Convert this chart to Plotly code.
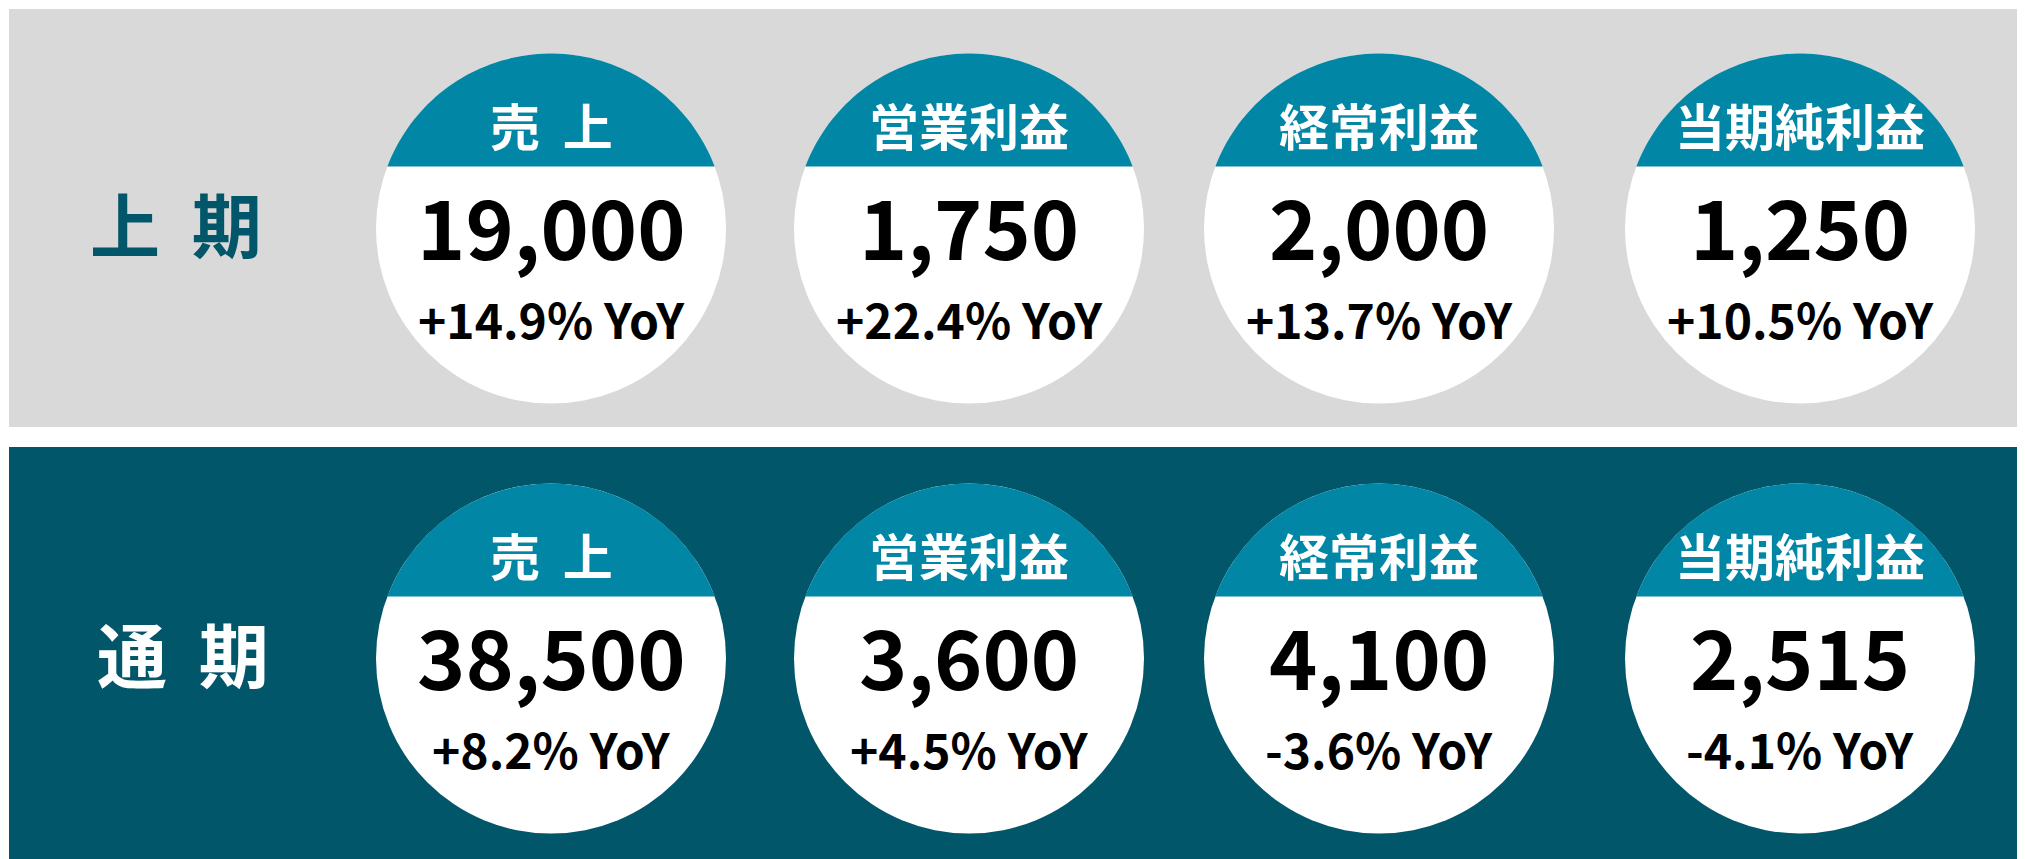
import numpy as np
import plotly.graph_objects as go

# ---- data ----
periods = ["上 期", "通 期"]
metrics = ["売 上", "営業利益", "経常利益", "当期純利益"]
h1_values = [19000, 1750, 2000, 1250]
h1_yoy = [14.9, 22.4, 13.7, 10.5]
fy_values = [38500, 3600, 4100, 2515]
fy_yoy = [8.2, 4.5, -3.6, -4.1]

# ---- styles / layout constants ----
W, H = 2025, 859
OFF = 8  # page body margin compensation
GRAY = "#d9d9d9"
DARK = "#025669"
TEAL = "#0286a5"
FONT = "Noto Sans CJK JP"
panel_y = [(9, 427), (447, 870)]
panel_x0 = 9
row_cy = [228.5, 658.5]
col_cx = [551, 969, 1379, 1800]
R = 175
cap_depth = 113  # from circle top to cap bottom
label_x = [176, 183]
label_colors = [DARK, "#ffffff"]


def spaced(s, n):
    return s.replace(" ", "&nbsp;" * n)


fig = go.Figure()
shapes = []
annotations = []

for r, (y0, y1) in enumerate(panel_y):
    shapes.append(dict(type="rect", xref="x", yref="y", x0=panel_x0, x1=W + 20, y0=y0, y1=y1,
                       fillcolor=GRAY if r == 0 else DARK, line=dict(width=0), layer="below"))

rows = [(h1_values, h1_yoy), (fy_values, fy_yoy)]
for r, (vals, yoys) in enumerate(rows):
    cy = row_cy[r]
    annotations.append(dict(x=label_x[r], y=cy - 6, text=spaced(periods[r], 2), showarrow=False,
                            font=dict(family=FONT, size=70, color=label_colors[r], weight="bold"),
                            xanchor="center", yanchor="middle"))
    for c, m in enumerate(metrics):
        cx = col_cx[c]
        shapes.append(dict(type="circle", xref="x", yref="y", x0=cx - R, x1=cx + R,
                           y0=cy - R, y1=cy + R, fillcolor="#ffffff", line=dict(width=0)))
        ychord = cy - R + cap_depth
        half = np.arccos((cy - ychord) / R)
        th = np.linspace(-half, half, 80)
        px = cx + R * np.sin(th)
        py = cy - R * np.cos(th)
        path = "M " + " L ".join(f"{a:.2f},{b:.2f}" for a, b in zip(px, py)) + " Z"
        shapes.append(dict(type="path", xref="x", yref="y", path=path,
                           fillcolor=TEAL, line=dict(width=0)))
        annotations.append(dict(x=cx, y=cy - 105, text=spaced(m, 2), showarrow=False,
                                font=dict(family=FONT, size=50, color="#ffffff", weight="bold"),
                                xanchor="center", yanchor="middle"))
        annotations.append(dict(x=cx, y=cy - 4, text=f"{vals[c]:,}", showarrow=False,
                                font=dict(family=FONT, size=82, color="#000000", weight="bold"),
                                xanchor="center", yanchor="middle"))
        annotations.append(dict(x=cx, y=cy + 89.5, text=f"{yoys[c]:+.1f}% YoY", showarrow=False,
                                font=dict(family=FONT, size=48, color="#000000", weight="bold"),
                                xanchor="center", yanchor="middle"))

fig.update_layout(
    width=W, height=H, margin=dict(l=0, r=0, t=0, b=0),
    paper_bgcolor="#ffffff", plot_bgcolor="#ffffff",
    xaxis=dict(range=[OFF, W + OFF], visible=False, fixedrange=True),
    yaxis=dict(range=[H + OFF, OFF], visible=False, fixedrange=True),
    shapes=shapes, annotations=annotations, showlegend=False,
)
fig.write_html("out.html", config={"displayModeBar": False})
